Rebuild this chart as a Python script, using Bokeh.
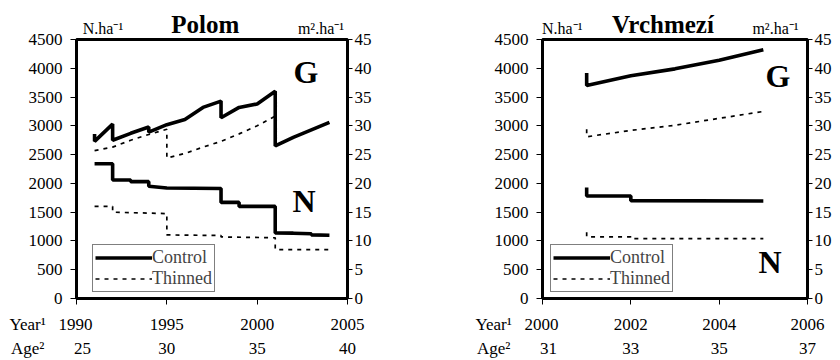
from bokeh.plotting import figure
from bokeh.layouts import row
from bokeh.models import Range1d, LinearAxis, FixedTicker, Label, Legend, LegendItem
from bokeh.embed import file_html
from bokeh.resources import INLINE

# ---------------- data ----------------
# Polom
polom_title = "Polom"
polom_year_ticks = [1990, 1995, 2000, 2005]
polom_age_labels = ["25", "30", "35", "40"]
polom_ctrl_G_x = [1991, 1991, 1992, 1992, 1993, 1994, 1994, 1995, 1996, 1997, 1998, 1998, 1999, 2000, 2001, 2001, 2002, 2003, 2004]
polom_ctrl_G_y = [28.6, 27.3, 30.3, 27.5, 28.7, 29.8, 28.9, 30.2, 31.1, 33.2, 34.3, 31.4, 33.2, 33.8, 36.0, 26.5, 28.0, 29.3, 30.6]
polom_thin_G_x = [1991, 1992, 1993, 1994, 1995, 1995, 1996, 1997, 1998, 1999, 2000, 2001]
polom_thin_G_y = [25.7, 26.3, 27.5, 28.5, 29.4, 24.4, 25.2, 26.3, 27.3, 28.6, 30.0, 31.7]
polom_ctrl_N_x = [1991, 1992, 1992, 1993, 1993, 1994, 1994, 1995, 1998, 1998, 1999, 1999, 2001, 2001, 2002, 2003, 2003, 2004]
polom_ctrl_N_y = [2340, 2340, 2060, 2060, 2030, 2030, 1950, 1920, 1910, 1670, 1670, 1600, 1600, 1140, 1135, 1125, 1105, 1100]
polom_thin_N_x = [1991, 1992, 1992, 1995, 1995, 1998, 1998, 2001, 2001, 2004]
polom_thin_N_y = [1600, 1600, 1500, 1475, 1105, 1095, 1070, 1055, 850, 850]

# Vrchmezí
vrch_title = "Vrchmezí"
vrch_year_ticks = [2000, 2002, 2004, 2006]
vrch_age_labels = ["31", "33", "35", "37"]
vrch_ctrl_G_x = [2001, 2001, 2002, 2003, 2004, 2005]
vrch_ctrl_G_y = [39.2, 37.0, 38.7, 39.9, 41.4, 43.2]
vrch_thin_G_x = [2001, 2001, 2002, 2003, 2004, 2005]
vrch_thin_G_y = [29.4, 28.1, 29.2, 30.1, 31.3, 32.5]
vrch_ctrl_N_x = [2001, 2001, 2002, 2002, 2005]
vrch_ctrl_N_y = [1930, 1780, 1780, 1700, 1695]
vrch_thin_N_x = [2001, 2001, 2002, 2002, 2005]
vrch_thin_N_y = [1150, 1070, 1070, 1040, 1040]

N_ticks = [0, 500, 1000, 1500, 2000, 2500, 3000, 3500, 4000, 4500]
G_ticks = [0, 5, 10, 15, 20, 25, 30, 35, 40, 45]
N_unit = "N.ha\u207b\u00b9"
G_unit = "m\u00b2.ha\u207b\u00b9"
year_word = "Year\u00b9"
age_word = "Age\u00b2"
legend_labels = ["Control", "Thinned"]

FONT = "'Liberation Serif', 'Times New Roman', serif"
TICK_FS = "17px"
NB = "\u00a0"


def panel(title, year_ticks, age_labels, cgx, cgy, tgx, tgy, cnx, cny, tnx, tny,
          frame_w, border_l, border_r, px_title, px_nunit, px_gunit,
          g_px, n_px, legend_loc):
    x0, x1 = year_ticks[0], year_ticks[-1]
    frame_h = 259

    def px2x(px):
        return round(x0 + px * (x1 - x0) / frame_w, 3)

    def px2y(px_from_top):
        return round((frame_h - px_from_top) * 4500 / frame_h, 1)

    p = figure(frame_width=frame_w, frame_height=frame_h, title=None,
               x_range=Range1d(x0, x1), y_range=Range1d(0, 4500),
               output_backend="svg", toolbar_location=None,
               min_border_left=border_l, min_border_right=border_r,
               min_border_top=39, min_border_bottom=0,
               x_axis_location=None, y_axis_location=None)
    p.extra_y_ranges = {"G": Range1d(0, 45)}
    p.xgrid.visible = False
    p.ygrid.visible = False
    p.outline_line_color = "black"
    p.outline_line_width = 3
    p.background_fill_color = "white"
    p.border_fill_color = "white"

    def style(ax, size=TICK_FS):
        ax.major_label_text_font = FONT
        ax.major_label_text_font_size = size
        ax.major_label_text_color = "black"
        ax.axis_line_color = "black"
        ax.axis_line_width = 3
        ax.major_tick_line_color = "black"
        ax.major_tick_line_width = 1
        ax.major_tick_in = 0
        ax.major_tick_out = 6
        ax.minor_tick_line_color = None

    def text_only(ax):
        ax.axis_line_color = None
        ax.major_tick_line_color = None
        ax.major_tick_out = 0

    yl = LinearAxis(ticker=FixedTicker(ticks=N_ticks))
    style(yl)
    yl.major_label_standoff = 8
    p.add_layout(yl, "left")

    yr = LinearAxis(y_range_name="G", ticker=FixedTicker(ticks=G_ticks))
    style(yr)
    yr.major_tick_out = 5
    yr.major_label_standoff = 2
    p.add_layout(yr, "right")

    # header row: units (regular) and panel title (bold), as text-only axes
    t_n, t_g = px2x(px_nunit), px2x(px_gunit)
    units = LinearAxis(ticker=FixedTicker(ticks=[t_n, t_g]),
                       major_label_overrides={t_n: N_unit, t_g: G_unit})
    style(units, "16px")
    text_only(units)
    units.major_label_standoff = 3
    p.add_layout(units, "above")

    t_t = px2x(px_title)
    head = LinearAxis(ticker=FixedTicker(ticks=[t_t]), major_label_overrides={t_t: title})
    style(head, "25px")
    head.major_label_text_font_style = "bold"
    text_only(head)
    head.major_label_standoff = -21
    p.add_layout(head, "above")

    # bottom rows: years and ages
    year_over = {t: str(t) for t in year_ticks}
    year_over[x0] = year_word + NB * 3 + str(x0) + NB * 12
    xa = LinearAxis(ticker=FixedTicker(ticks=year_ticks), major_label_overrides=year_over)
    style(xa)
    xa.major_label_standoff = 10
    p.add_layout(xa, "below")

    age_over = {t: a for t, a in zip(year_ticks, age_labels)}
    age_over[x0] = age_word + NB * 7 + age_labels[0] + NB * 12
    age = LinearAxis(ticker=FixedTicker(ticks=year_ticks), major_label_overrides=age_over)
    style(age)
    text_only(age)
    age.major_label_standoff = 2
    p.add_layout(age, "below")

    p.line(cgx, cgy, y_range_name="G", line_color="black", line_width=3.6)
    p.line(tgx, tgy, y_range_name="G", line_color="black", line_width=1.7, line_dash="4 5")
    c_n = p.line(cnx, cny, line_color="black", line_width=3.6)
    t_n_r = p.line(tnx, tny, line_color="black", line_width=1.7, line_dash="4 5")

    leg = Legend(items=[LegendItem(label=legend_labels[0], renderers=[c_n]),
                        LegendItem(label=legend_labels[1], renderers=[t_n_r])],
                 location=legend_loc, orientation="vertical",
                 label_text_font=FONT, label_text_font_size="18px",
                 label_text_line_height=0.8,
                 label_height=15, glyph_height=15, glyph_width=57,
                 label_standoff=0, spacing=0, padding=2, margin=0,
                 border_line_color="black", border_line_width=1,
                 background_fill_alpha=1)
    p.add_layout(leg, "center")

    # big "G" and "N" markers, placed by pixel offsets inside the frame
    for txt, (gx, gy) in (("G", g_px), ("N", n_px)):
        p.add_layout(Label(x=px2x(gx), y=px2y(gy), text=txt,
                           text_font=FONT, text_font_size="32px", text_font_style="bold",
                           text_color="black", text_baseline="alphabetic"))
    return p


# offsets (px) measured from the frame's top-left corner
p1 = panel(polom_title, polom_year_ticks, polom_age_labels,
           polom_ctrl_G_x, polom_ctrl_G_y, polom_thin_G_x, polom_thin_G_y,
           polom_ctrl_N_x, polom_ctrl_N_y, polom_thin_N_x, polom_thin_N_y,
           frame_w=271, border_l=76, border_r=45,
           px_title=128.7, px_nunit=26.5, px_gunit=244.5,
           g_px=(217, 32), n_px=(216, 161), legend_loc=(16, 6))
p2 = panel(vrch_title, vrch_year_ticks, vrch_age_labels,
           vrch_ctrl_G_x, vrch_ctrl_G_y, vrch_thin_G_x, vrch_thin_G_y,
           vrch_ctrl_N_x, vrch_ctrl_N_y, vrch_thin_N_x, vrch_thin_N_y,
           frame_w=265, border_l=150, border_r=33,
           px_title=120.5, px_nunit=19.7, px_gunit=233,
           g_px=(223, 36), n_px=(216, 223), legend_loc=(8, 6))

layout = row(p1, p2)
open("out.html", "w").write(file_html(layout, INLINE))
